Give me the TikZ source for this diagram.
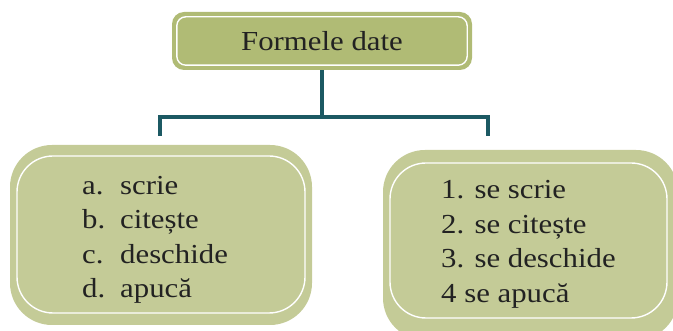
\documentclass[tikz,border=0pt]{standalone}
\usepackage{fontspec}
\setmainfont{Liberation Serif}[FakeStretch=1.12]
\definecolor{topfill}{HTML}{B0BB75}
\definecolor{boxfill}{HTML}{C4CB97}
\definecolor{linkcol}{HTML}{1C5963}
\definecolor{txt}{HTML}{222222}
\begin{document}
\begin{tikzpicture}[x=1pt,y=-1pt,
  titlebox/.style={fill=topfill, rounded corners=12, minimum width=300, minimum height=58, inner sep=0, text=txt, font=\fontsize{27.5}{32}\selectfont},
  itemtext/.style={anchor=base west, inner sep=0, text=txt, font=\fontsize{27.5}{32}\selectfont},
  link/.style={linkcol, line width=4}]
\useasboundingbox (0,0) rectangle (673,331);
\clip (0,0) rectangle (673,331);
% top box
\node[titlebox] (top) at (322,41) {Formele date};
\draw[white, line width=1.4, rounded corners=9] ([shift={(5,5)}]top.north west) rectangle ([shift={(-5,-5)}]top.south east);
% left box
\fill[boxfill, rounded corners=42] (10,145) rectangle (312,325);
\draw[white, line width=1.4, rounded corners=36] (17,156) rectangle (305,313);
% right box
\fill[boxfill, rounded corners=42] (383,150) rectangle (678,340);
\draw[white, line width=1.4, rounded corners=36] (390,163) rectangle (667,318);
% connectors
\coordinate (j) at (322,117);
\coordinate (cl) at (160,136);
\coordinate (cr) at (488,136);
\draw[link] (top.south) -- (j);
\draw[link] (cl) |- (j) -| (cr);
% left items
\node[itemtext] (la) at (82,195) {\makebox[38pt][l]{a.}scrie};
\node[itemtext] (lb) at (82,229) {\makebox[38pt][l]{b.}citește};
\node[itemtext] (lc) at (82,264) {\makebox[38pt][l]{c.}deschide};
\node[itemtext] (ld) at (82,298) {\makebox[38pt][l]{d.}apucă};
% right items
\node[itemtext] (r1) at (441,199) {1. se scrie};
\node[itemtext] (r2) at (441,234) {2. se citește};
\node[itemtext] (r3) at (441,268) {3. se deschide};
\node[itemtext] (r4) at (441,303) {4 se apucă};
\end{tikzpicture}
\end{document}
